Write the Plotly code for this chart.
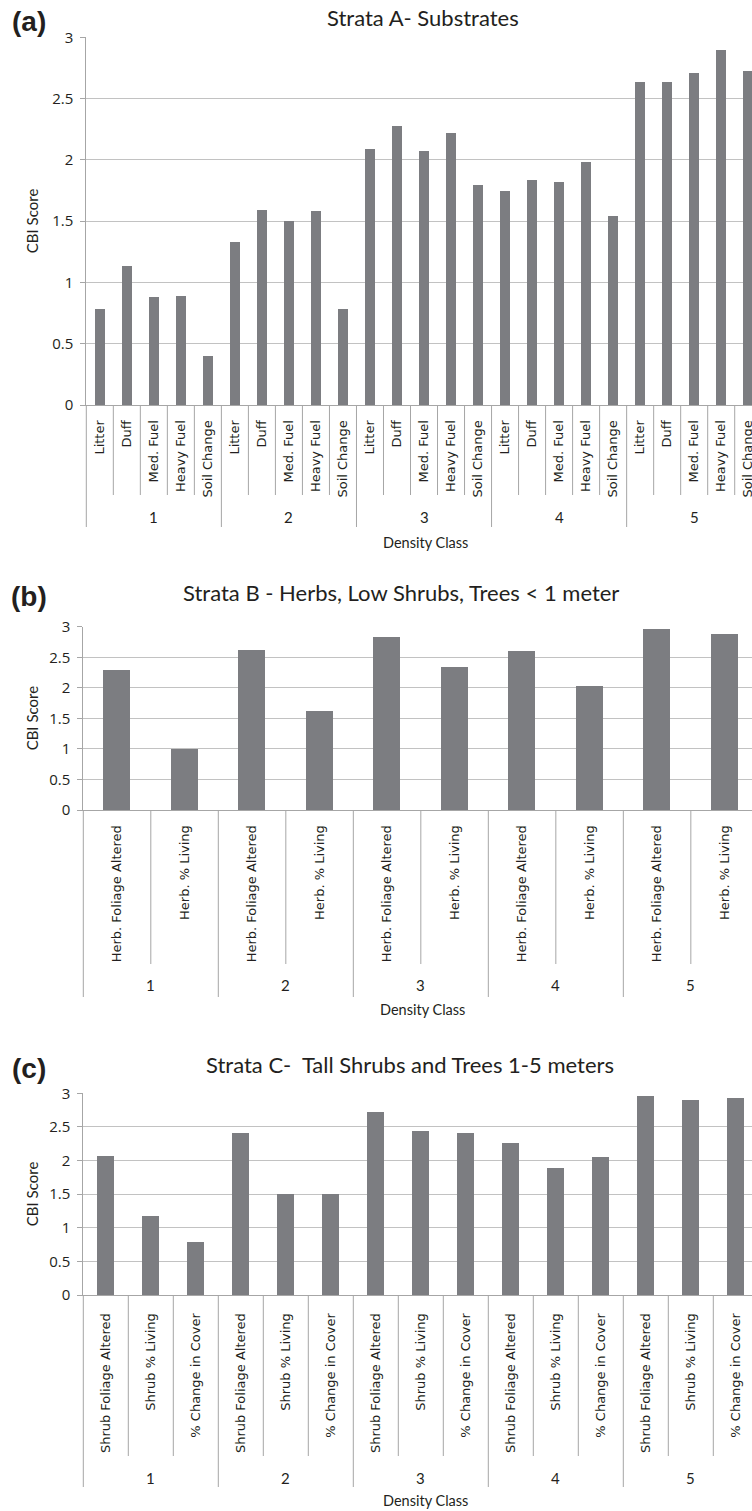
import plotly.graph_objects as go

# ---------------- data ----------------
density_classes = ["1", "2", "3", "4", "5"]

substrate_items = ["Litter", "Duff", "Med. Fuel", "Heavy Fuel", "Soil Change"]
substrate_scores = {
    "1": [0.78, 1.13, 0.88, 0.89, 0.40],
    "2": [1.33, 1.59, 1.50, 1.58, 0.78],
    "3": [2.09, 2.27, 2.07, 2.22, 1.79],
    "4": [1.74, 1.83, 1.82, 1.98, 1.54],
    "5": [2.63, 2.63, 2.71, 2.89, 2.72],
}

herb_items = ["Herb. Foliage Altered", "Herb. % Living"]
herb_scores = {
    "1": [2.29, 1.00],
    "2": [2.62, 1.62],
    "3": [2.84, 2.35],
    "4": [2.60, 2.03],
    "5": [2.96, 2.89],
}

shrub_items = ["Shrub Foliage Altered", "Shrub % Living", "% Change in Cover"]
shrub_scores = {
    "1": [2.07, 1.17, 0.78],
    "2": [2.41, 1.50, 1.50],
    "3": [2.72, 2.43, 2.40],
    "4": [2.25, 1.88, 2.05],
    "5": [2.96, 2.89, 2.92],
}

panel_titles = ["Strata A- Substrates",
                "Strata B - Herbs, Low Shrubs, Trees < 1 meter",
                "Strata C-  Tall Shrubs and Trees 1-5 meters"]
panel_labels = ["(a)", "(b)", "(c)"]
x_title = "Density Class"
y_title = "CBI Score"
y_ticks = [0, 0.5, 1, 1.5, 2, 2.5, 3]

# ---------------- style ----------------
W, H = 752, 1511
BAR = "#7c7d81"
GRID = "#c2c2c2"
AXIS = "#a6a6a6"
TXT = "#231f20"
LAB_FONT = "DejaVu Sans"
TTL_FONT = "Lato"
NUM_FONT = "Open Sans"


def flat(items, scores):
    keys, labels, vals = [], [], []
    for g in density_classes:
        for it, v in zip(items, scores[g]):
            keys.append(f"{g} | {it}")
            labels.append(it)
            vals.append(v)
    return keys, labels, vals


def py(p):
    return 1 - p / H


# pixel geometry of each panel (layout only)
panels = [
    dict(items=substrate_items, scores=substrate_scores, left=86.3, top=37.3, bottom=405,
         xend=24.14, gap=0.63, tlen=9, inner=495, grp=517, grpdiv=527, xt=542, xtx=425,
         title=(423, 17.5), label=(29, 21)),
    dict(items=herb_items, scores=herb_scores, left=83.3, top=626.7, bottom=810,
         xend=9.406, gap=0.605, tlen=9, inner=964, grp=985, grpdiv=997, xt=1009, xtx=422,
         title=(401, 592), label=(29, 597)),
    dict(items=shrub_items, scores=shrub_scores, left=83.3, top=1093.3, bottom=1295,
         xend=14.36, gap=0.61, tlen=12, inner=1456, grp=1478, grpdiv=1487, xt=1500, xtx=425,
         title=(410, 1064), label=(29, 1068)),
]

fig = go.Figure()
layout = dict(width=W, height=H, margin=dict(l=0, r=0, t=0, b=0, autoexpand=False),
              paper_bgcolor="white", plot_bgcolor="white", showlegend=False,
              font=dict(family=TTL_FONT, color=TXT), template="none", bargap=0)
shapes, ann = [], []

for i, p in enumerate(panels, start=1):
    keys, labels, v = flat(p["items"], p["scores"])
    xa = "x" if i == 1 else f"x{i}"
    ya = "y" if i == 1 else f"y{i}"
    d0 = p["left"] / W
    r0, r1 = -0.5, p["xend"]

    def xpaper(xv):
        return d0 + (xv - r0) / (r1 - r0) * (1 - d0)

    fig.add_trace(go.Bar(x=keys, y=v, xaxis=xa, yaxis=ya,
                         marker=dict(color=BAR, line=dict(width=0)),
                         width=1 - p["gap"], hoverinfo="x+y"))
    layout[f"xaxis{'' if i == 1 else i}"] = dict(
        type="category", domain=[d0, 1], anchor=ya, automargin=False,
        categoryorder="array", categoryarray=keys,
        range=[r0, r1], showline=True, linecolor=AXIS, linewidth=1,
        tickmode="array", tickvals=keys, ticktext=labels,
        ticks="outside", ticklen=p["tlen"], tickcolor="rgba(0,0,0,0)", tickangle=-90,
        tickfont=dict(family=LAB_FONT, size=13, color=TXT),
        showgrid=False, zeroline=False,
    )
    layout[f"yaxis{'' if i == 1 else i}"] = dict(
        domain=[py(p["bottom"]), py(p["top"])], anchor=xa, automargin=False,
        range=[0, 3], tickvals=y_ticks, showgrid=True, gridcolor=GRID, gridwidth=1,
        showline=True, linecolor=AXIS, ticks="outside", ticklen=5, tickcolor=AXIS,
        ticklabelstandoff=4,
        tickfont=dict(family=NUM_FONT, size=15, color=TXT), zeroline=False,
    )

    n_items = len(p["items"])
    n_total = len(keys)
    # separators: short ones between measures, long ones between density classes
    for k in range(0, n_total):
        xb = k - 0.5
        if xb > r1:
            continue
        bottom_px = p["grpdiv"] if k % n_items == 0 else p["inner"]
        shapes.append(dict(type="line", xref="paper", yref="paper",
                           x0=xpaper(xb), x1=xpaper(xb),
                           y0=py(p["bottom"]), y1=py(bottom_px),
                           line=dict(color=AXIS, width=1)))
    # density class labels
    for gi, g in enumerate(density_classes):
        xc = gi * n_items + (n_items - 1) / 2
        ann.append(dict(text=g, x=xpaper(xc), y=py(p["grp"]), xref="paper", yref="paper",
                        showarrow=False, xanchor="center", yanchor="middle",
                        font=dict(family=TTL_FONT, size=15, color=TXT)))
    # axis titles
    ann.append(dict(text=x_title, x=p["xtx"] / W, y=py(p["xt"]), xref="paper", yref="paper",
                    showarrow=False, xanchor="center", yanchor="middle",
                    font=dict(family=TTL_FONT, size=14.5, color=TXT)))
    ann.append(dict(text=y_title, x=32 / W, y=py((p["top"] + p["bottom"]) / 2),
                    xref="paper", yref="paper", showarrow=False, textangle=-90,
                    xanchor="center", yanchor="middle",
                    font=dict(family=TTL_FONT, size=15, color=TXT)))
    # panel title and panel letter
    tx, ty = p["title"]
    ann.append(dict(text=panel_titles[i - 1], x=tx / W, y=py(ty), xref="paper", yref="paper",
                    showarrow=False, xanchor="center", yanchor="middle",
                    font=dict(family=TTL_FONT, size=22, color=TXT)))
    lx, ly = p["label"]
    ann.append(dict(text=f"<b>{panel_labels[i - 1]}</b>", x=lx / W, y=py(ly),
                    xref="paper", yref="paper", showarrow=False,
                    xanchor="center", yanchor="middle",
                    font=dict(family="Liberation Sans", size=28, color=TXT)))

layout["annotations"] = ann
layout["shapes"] = shapes
fig.update_layout(**layout)
fig.write_html("out.html", config={"displayModeBar": False},
               post_script="document.body.style.margin='0px';document.body.style.overflow='hidden';")
